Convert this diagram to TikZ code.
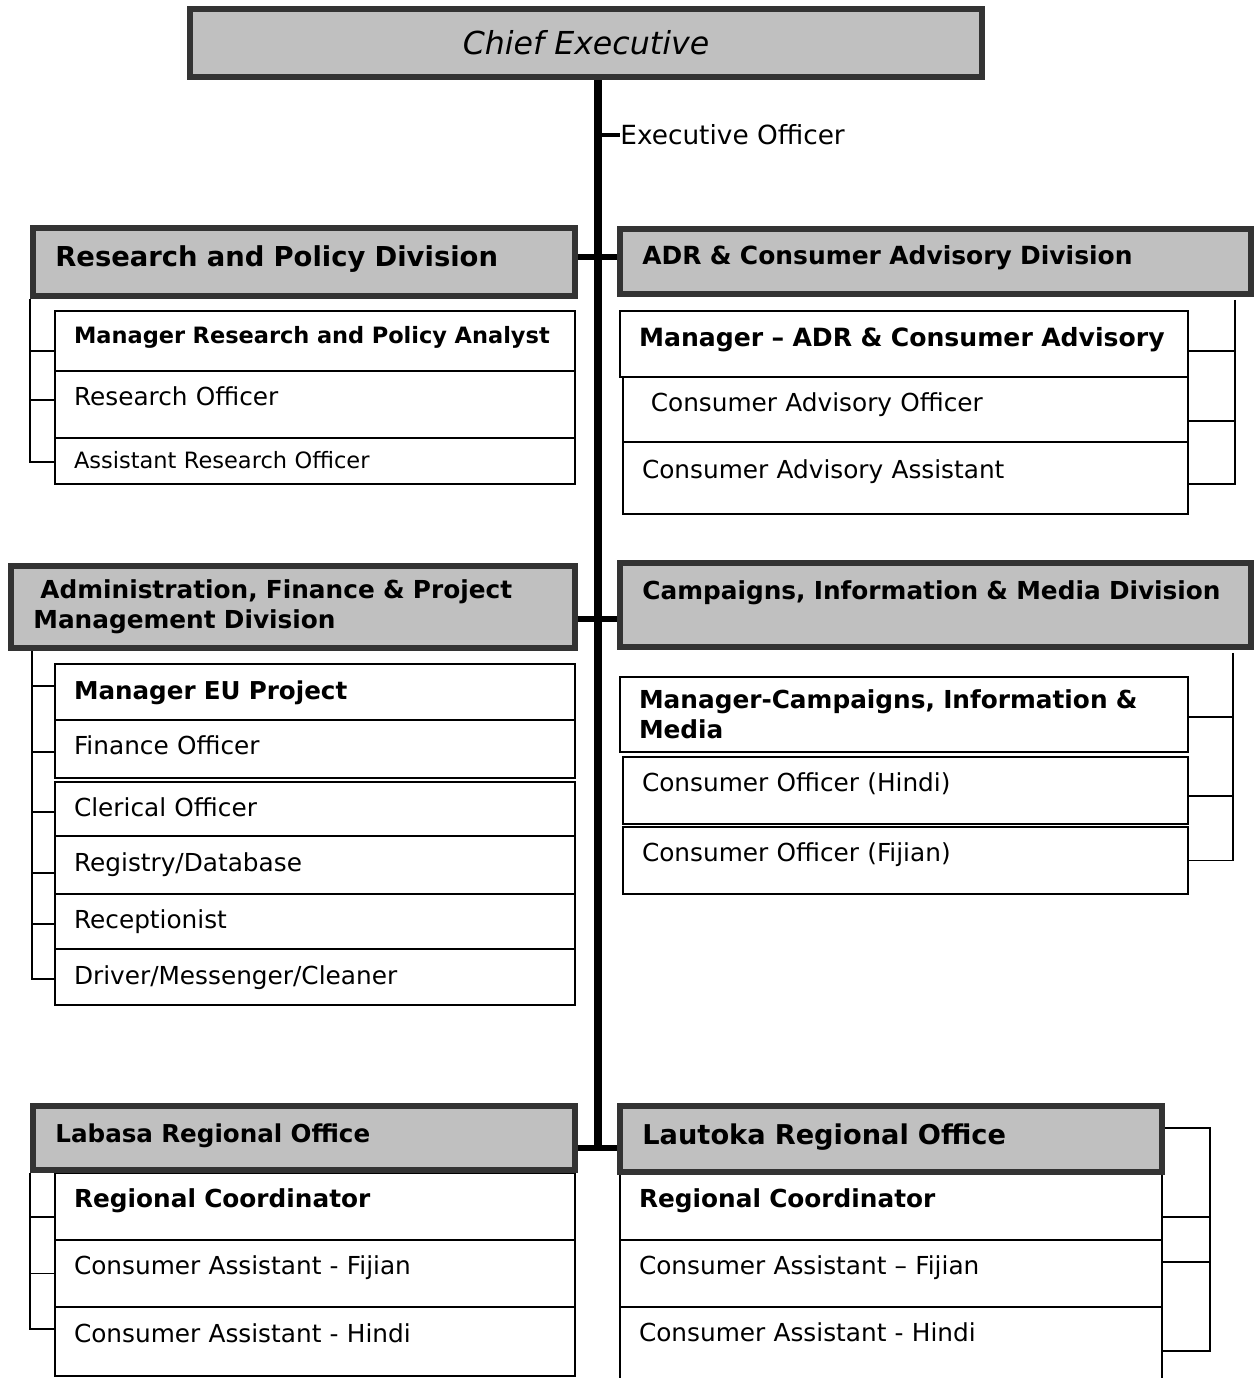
\documentclass[tikz,border=0pt]{standalone}
\usepackage{fontspec}
\setmainfont{DejaVu Sans}
\usepackage{tikz}
\usetikzlibrary{positioning}
\usetikzlibrary{calc}
\definecolor{boxgray}{RGB}{192,192,192}
\definecolor{edgegray}{RGB}{51,51,51}
\newcommand{\fsz}[1]{\fontsize{#1}{17}\selectfont}
\tikzset{
  org_head/.style = {draw=edgegray, fill=boxgray, line width=3.6pt, rectangle,
    font=\itshape\fsz{18}, minimum width=15.84cm, minimum height=1.36cm},% chef
  org_div/.style 2 args = {draw=edgegray, fill=boxgray, line width=3.4pt, rectangle,
    inner xsep=12.7pt, inner ysep=0pt, align=left, text height=10pt, text depth=5pt,
    minimum width=#1, minimum height=#2, text width={#1-25.4pt}},% division
  org_post/.style 2 args = {draw=black, line width=0.9pt, rectangle,
    inner xsep=10.8pt, inner ysep=0pt, align=left, font=\fsz{14.1},
    text height=9.5pt, text depth=8.5pt,
    minimum width=#1, minimum height=#2, text width={#1-21.6pt}},% poste
  org_tie/.style = {draw=black, line width=0.9pt},
  org_stem/.style = {draw=black, line width=3.4pt}
}

\begin{document}
\begin{tikzpicture}[x=0.02cm,y=-0.02cm]
\useasboundingbox (0,0) rectangle (1254,1378);

% posts under each division
\node[org_post={10.4cm}{1.20cm}, font=\bfseries\fsz{12.8}, text depth=6.1pt] (rpa) at (315,341) {Manager Research and Policy Analyst};
\node[org_post={10.4cm}{1.34cm}] (rpb) at (315,404.5) {Research Officer};
\node[org_post={10.4cm}{0.92cm}, font=\fsz{12.8}, text depth=0.5pt] (rpc) at (315,461) {Assistant Research Officer};

\node[org_post={11.36cm}{1.32cm}, font=\bfseries\fsz{14.3}, text depth=6.1pt] (ada) at (904,344) {Manager -- ADR \& Consumer Advisory};
\node[org_post={11.30cm}{1.30cm}, text depth=6.7pt] (adb) at (905.5,409.5) {\hspace{5pt}Consumer Advisory Officer};
\node[org_post={11.30cm}{1.44cm}, text depth=9.5pt] (adc) at (905.5,478) {Consumer Advisory Assistant};

\node[org_post={10.4cm}{1.12cm}, font=\bfseries\fsz{14}, text depth=1.5pt] (afa) at (315,692) {Manager EU Project};
\node[org_post={10.4cm}{1.16cm}, text depth=3.5pt] (afb) at (315,749) {Finance Officer};
\node[org_post={10.4cm}{1.08cm}, text depth=1.5pt] (afc) at (315,809) {Clerical Officer};
\node[org_post={10.4cm}{1.16cm}, text depth=2pt] (afd) at (315,865) {Registry/Database};
\node[org_post={10.4cm}{1.10cm}, text depth=1.5pt] (afe) at (315,921.5) {Receptionist};
\node[org_post={10.4cm}{1.12cm}, text depth=1.5pt] (aff) at (315,977) {Driver/Messenger/Cleaner};

\node[org_post={11.36cm}{1.50cm}, font=\bfseries\fsz{14.1}, text height={}, text depth={}] (cia) at (904,714.5) {Manager-Campaigns, Information \&\\Media};
\node[org_post={11.30cm}{1.34cm}] (cib) at (905.5,790.5) {Consumer Officer (Hindi)};
\node[org_post={11.30cm}{1.34cm}] (cic) at (905.5,860.5) {Consumer Officer (Fijian)};

\node[org_post={10.4cm}{1.34cm}, font=\bfseries\fsz{14.1}] (lba) at (315,1206.5) {Regional Coordinator};
\node[org_post={10.4cm}{1.34cm}] (lbb) at (315,1273.5) {Consumer Assistant - Fijian};
\node[org_post={10.4cm}{1.38cm}] (lbc) at (315,1341.5) {Consumer Assistant - Hindi};

\node[org_post={10.84cm}{1.34cm}, font=\bfseries\fsz{14.1}] (lta) at (891,1206.5) {Regional Coordinator};
\node[org_post={10.84cm}{1.34cm}] (ltb) at (891,1273.5) {Consumer Assistant -- Fijian};
\node[org_post={10.84cm}{1.50cm}, text depth=12.5pt] (ltc) at (891,1344.5) {Consumer Assistant - Hindi};

% head and divisions
\node[org_head] (chief) at (586,43) {Chief Executive};

\node[org_div={10.84cm}{1.36cm}, font=\bfseries\fsz{15.6}, text depth=4.6pt] (rp) at (304,262) {Research and Policy Division};
\node[org_div={12.62cm}{1.30cm}, font=\bfseries\fsz{14.2}, text depth=6.2pt] (adr) at (935.5,261.5) {ADR \& Consumer Advisory Division};
\node[org_div={11.28cm}{1.64cm}, font=\bfseries\fsz{14.1}, text height={}, text depth={}] (afp) at (293,607) {\hspace{4pt}Administration, Finance \& Project\\Management Division};
\node[org_div={12.62cm}{1.68cm}, font=\bfseries\fsz{14.1}, text depth=16pt] (cim) at (935.5,605) {Campaigns, Information \& Media Division};
\node[org_div={10.84cm}{1.28cm}, font=\bfseries\fsz{14}, text depth=4.6pt] (lb) at (304,1138) {Labasa Regional Office};
\node[org_div={10.84cm}{1.32cm}, font=\bfseries\fsz{15.5}, text depth=3.4pt] (lt) at (891,1139) {Lautoka Regional Office};

% main line
\coordinate (spine) at (598,0);
\coordinate (j1) at (598,257);
\coordinate (j2) at (598,619);
\coordinate (j3) at (598,1148);
\draw[line width=4pt] (chief.south -| spine) -- (j3);

\node[anchor=west, inner sep=0pt, font=\fsz{15}] (eo) at (620,135) {Executive Officer};
\draw[line width=2.5pt] (eo.west -| spine) -- (eo.west);

\draw[org_stem] (rp.east |- j1) -- (adr.west |- j1);
\draw[org_stem] (afp.east |- j2) -- (cim.west |- j2);
\draw[org_stem] (lb.east |- j3) -- (lt.west |- j3);

% brackets, left side
\draw[org_tie] (rp.south west) |- ([yshift=-0.02cm]rpc.west);
\foreach \p/\dy in {rpa/-0.2cm, rpb/0.09cm}
  \draw[org_tie] ([yshift=\dy]\p.west) -- ([yshift=\dy]\p.west -| rp.south west);

\coordinate (afpbar) at ([xshift=0.48cm]afp.south west);
\draw[org_tie] (afpbar) |- ([yshift=-0.04cm]aff.west);
\foreach \p/\dy in {afa/0.12cm, afb/-0.06cm, afc/-0.06cm, afd/-0.16cm, afe/-0.05cm}
  \draw[org_tie] ([yshift=\dy]\p.west) -- ([yshift=\dy]\p.west -| afpbar);

\draw[org_tie] (lb.south west) |- ([yshift=0.25cm]lbc.west);
\foreach \p/\dy in {lba/-0.21cm, lbb/0cm}
  \draw[org_tie] ([yshift=\dy]\p.west) -- ([yshift=\dy]\p.west -| lb.south west);

% brackets, right side
\coordinate (adrbar) at ([xshift=-0.38cm,yshift=-0.06cm]adr.south east);
\draw[org_tie] (adrbar) |- ([yshift=-0.12cm]adc.east);
\foreach \p/\dy in {ada/-0.14cm, adb/-0.23cm}
  \draw[org_tie] ([yshift=\dy]\p.east) -- ([yshift=\dy]\p.east -| adrbar);

\coordinate (cimbar) at ([xshift=-0.42cm,yshift=-0.06cm]cim.south east);
\draw[org_tie] (cimbar) |- (cic.east);
\foreach \p/\dy in {cia/-0.05cm, cib/-0.11cm}
  \draw[org_tie] ([yshift=\dy]\p.east) -- ([yshift=\dy]\p.east -| cimbar);

\coordinate (ltbar) at ([xshift=0.9cm]lt.east);
\draw[org_tie] ([yshift=0.22cm]lt.east) -| ([yshift=-0.13cm]ltc.east -| ltbar) -- ([yshift=-0.13cm]ltc.east);
\foreach \p/\dy in {lta/-0.21cm, ltb/0.23cm}
  \draw[org_tie] ([yshift=\dy]\p.east) -- ([yshift=\dy]\p.east -| ltbar);
\end{tikzpicture}
\end{document}
